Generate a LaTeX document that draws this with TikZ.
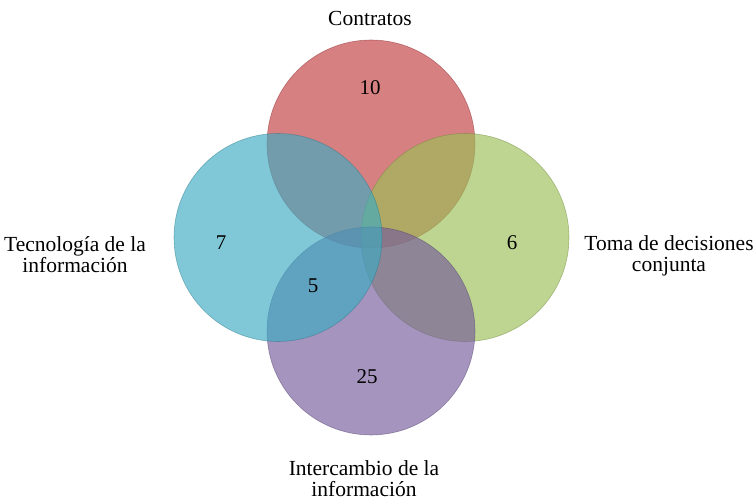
\documentclass[tikz,border=0pt]{standalone}
\usepackage{fontspec}
\setmainfont{Liberation Serif}
\usepackage{tikz}
\usepackage{xcolor}
\definecolor{rojo}{RGB}{194,60,63}
\definecolor{cian}{RGB}{60,171,194}
\definecolor{verde}{RGB}{155,191,86}
\definecolor{morado}{RGB}{117,91,155}
\tikzset{
  conj/.style={circle, minimum size=208pt, inner sep=0pt, fill opacity=0.65, draw opacity=0.5, line width=0.6pt},
  etiq/.style={align=center, font=\fontsize{21.5}{21}\selectfont},
  num/.style={font=\fontsize{21}{21}\selectfont}
}

\begin{document}
\begin{tikzpicture}[x=1pt,y=1pt]
\useasboundingbox (0,0) rectangle (756,501);
% Conjuntos
\node[conj, fill=rojo, draw=rojo!70!black] (contratos) at (371,357) {};
\node[conj, fill=verde, draw=verde!70!black] (decisiones) at (465,263.5) {};
\node[conj, fill=morado, draw=morado!70!black] (intercambio) at (371,170) {};
\node[conj, fill=cian, draw=cian!70!black] (tecnologia) at (278,263.5) {};
% Nombres
\node[etiq] (tContratos) at (370,483) {Contratos};
\node[etiq] (tTecnologia) at (75,246) {Tecnología de la\\información};
\node[etiq] (tDecisiones) at (669,245) {Toma de decisiones\\conjunta};
\node[etiq] (tIntercambio) at (364,22) {Intercambio de la\\información};
% Cantidades
\node[num] (n10) at (370,413) {10};
\node[num] (n7) at (221,258) {7};
\node[num] (n6) at (512,258) {6};
\node[num] (n5) at (313,215) {5};
\node[num] (n25) at (367,124) {25};
\end{tikzpicture}
\end{document}
